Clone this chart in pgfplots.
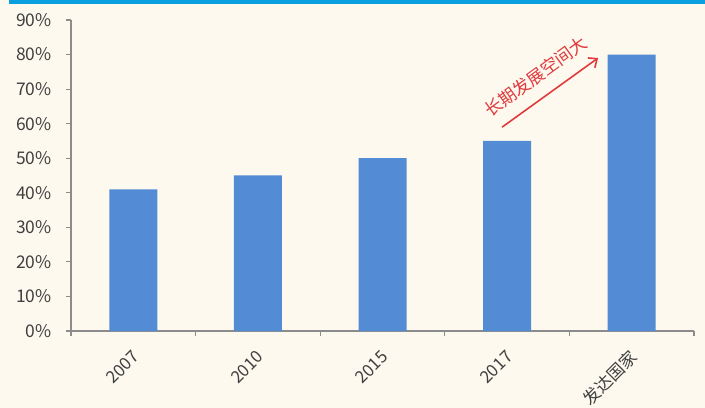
\documentclass[border=0pt]{standalone}
\usepackage{pgfplots}
\pgfplotsset{compat=1.18}
\usepackage{fontspec}
\setmainfont{Noto Sans CJK SC}
\usetikzlibrary{arrows.meta}
\definecolor{bg}{HTML}{FDF9EE}
\definecolor{barblue}{HTML}{538CD4}
\definecolor{topline}{HTML}{0AA0E0}
\definecolor{arrowred}{HTML}{E03A3E}
\definecolor{axgray}{HTML}{8C8C8C}
\definecolor{txt}{HTML}{404040}
\begin{document}
\begin{tikzpicture}
\clip (0,0) rectangle (705bp,408bp);
\fill[bg] (0,0) rectangle (705bp,408bp);
\fill[topline] (9bp,404bp) rectangle (705bp,408bp);
\begin{axis}[
  at={(71bp,77bp)}, anchor=south west,
  scale only axis, width=623bp, height=311bp,
  xmin=-0.5, xmax=4.5, ymin=0, ymax=90,
  axis lines*=left,
  axis line style={-, draw=axgray, line width=1.3bp},
  tick style={draw=axgray, line width=1.1bp},
  tick align=outside,
  major tick length=5bp,
  xtick={-0.5,0.5,1.5,2.5,3.5,4.5},
  xticklabels={{},{},{},{},{},{}},
  extra x ticks={0,1,2,3,4},
  extra x tick labels={2007,2010,2015,2017,发达国家},
  extra x tick style={major tick length=0pt},
  xticklabel style={rotate=45, anchor=east, font=\fontsize{17}{19}\selectfont, text=txt, yshift=-18bp, xshift=-11bp},
  ytick={0,10,...,90},
  yticklabels={0\%,10\%,20\%,30\%,40\%,50\%,60\%,70\%,80\%,90\%},
  yticklabel style={font=\fontsize{17.5}{19}\selectfont, text=txt, xshift=-11bp},
  ybar, bar width=48bp,
  clip=false,
]
\addplot[fill=barblue, draw=none] coordinates {(0,41) (1,45) (2,50) (3,55) (4,80)};
\draw[arrowred, line width=1.6bp, -{Straight Barb[length=7bp, width=12bp]}] (axis cs:2.96,59) -- (axis cs:3.73,79);
\node[rotate=36, text=arrowred, font=\fontsize{17.5}{19}\selectfont] at (axis cs:3.23,73.6) {长期发展空间大};
\end{axis}
\end{tikzpicture}
\end{document}
